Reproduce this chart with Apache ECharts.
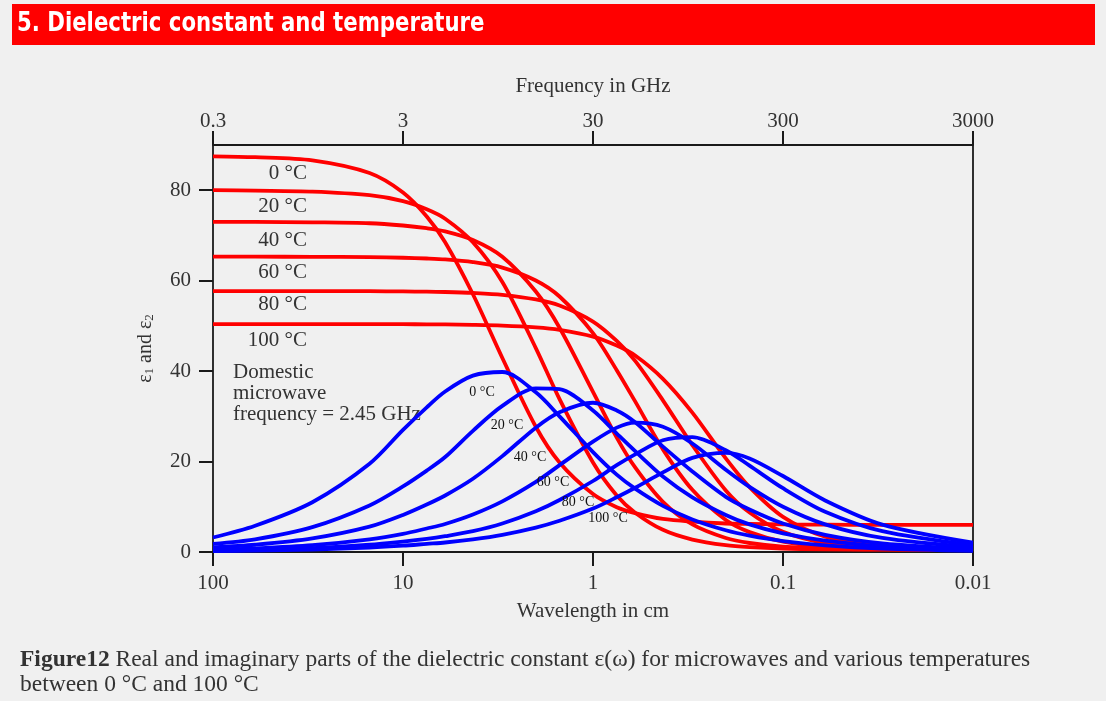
<!DOCTYPE html>
<html>
<head>
<meta charset="utf-8">
<script src="https://cdn.jsdelivr.net/npm/echarts@6/dist/echarts.min.js"></script>
<style>
html,body{margin:0;padding:0;background:#f0f0f0;}
#chart{width:1106px;height:701px;}
</style>
</head>
<body>
<div id="chart"></div>
<script>
// Frequency sample points (GHz), shared by all curves
const freqGHz = [0.3, 0.5, 1, 2, 3, 4, 5, 7, 10, 15, 20, 30, 40, 50, 70, 100, 150, 200, 300, 500, 1000, 3000];
const temps = ['0 °C', '20 °C', '40 °C', '60 °C', '80 °C', '100 °C'];

// Real part ε1 (red)
const eps1_0C   = [87.5, 87.3, 86.6, 83.8, 79.5, 74.2, 68.5, 57.0, 42.9, 27.7, 19.8, 12.8, 9.9, 8.6, 7.3, 6.7, 6.3, 6.2, 6.1, 6.05, 6.0, 6.0];
const eps1_20C  = [80.0, 79.9, 79.7, 78.9, 77.6, 75.8, 73.7, 68.5, 59.7, 45.1, 33.8, 19.8, 12.5, 8.7, 4.9, 2.75, 1.5, 1.07, 0.75, 0.59, 0.52, 0.5];
const eps1_40C  = [73.0, 73.0, 72.9, 72.7, 72.2, 71.6, 70.9, 69.0, 65.3, 57.6, 49.6, 35.4, 25.3, 18.7, 11.1, 6.1, 3.09, 1.99, 1.17, 0.74, 0.56, 0.51];
const eps1_60C  = [65.3, 65.3, 65.27, 65.2, 65.07, 64.9, 64.7, 64.1, 62.9, 60.05, 56.5, 48.4, 40.2, 33.3, 22.7, 13.75, 7.07, 4.4, 2.29, 1.16, 0.67, 0.52];
const eps1_80C  = [57.7, 57.7, 57.69, 57.67, 57.62, 57.56, 57.49, 57.28, 56.87, 55.84, 54.49, 50.96, 46.67, 42.26, 33.54, 23.64, 13.62, 8.74, 4.48, 2.01, 0.89, 0.54];
const eps1_100C = [50.4, 50.4, 50.4, 50.39, 50.37, 50.35, 50.32, 50.24, 50.08, 49.68, 49.13, 47.64, 45.65, 43.44, 38.29, 30.82, 20.69, 14.34, 7.77, 3.4, 1.26, 0.59];

// Imaginary part ε2 (blue)
const eps2_0C   = [3.2, 5.8, 11, 19.5, 27, 32, 35.5, 39, 39.8, 35.3, 30, 22.1, 17.1, 14, 10.2, 7.2, 4.8, 3.6, 2.4, 1.45, 0.73, 0.24];
const eps2_20C  = [1.8, 2.8, 5.5, 10.3, 14.5, 18, 21, 26.8, 32.3, 36.2, 36.0, 31.3, 26.2, 22.3, 16.7, 12.1, 8.2, 6.1, 4.1, 2.5, 1.25, 0.4];
const eps2_40C  = [1.0, 1.6, 3.0, 5.6, 8.2, 10.5, 12.5, 16.2, 21.2, 27.5, 30.9, 33.0, 31.3, 28.7, 23.3, 17.8, 12.2, 9.4, 6.3, 3.8, 1.9, 0.64];
const eps2_60C  = [0.5, 0.8, 1.5, 2.8, 4.0, 5.2, 6.2, 8.3, 11.2, 15.5, 19.2, 24.4, 27.5, 28.6, 27.7, 24.0, 18.2, 14.4, 10.0, 6.1, 3.1, 1.03];
const eps2_80C  = [0.3, 0.45, 0.85, 1.6, 2.3, 2.9, 3.5, 4.6, 6.3, 9.0, 11.5, 15.7, 19.2, 21.6, 24.7, 25.4, 22.5, 19.1, 14.1, 8.9, 4.6, 1.5];
const eps2_100C = [0.2, 0.3, 0.55, 1.0, 1.4, 1.8, 2.1, 2.8, 3.8, 5.4, 6.9, 9.6, 12.1, 14.2, 17.6, 20.8, 21.9, 20.7, 16.8, 11.4, 6.05, 2.05];

// Tick labels
const freqTicks = [0.3, 3, 30, 300, 3000];
const waveTicks = [100, 10, 1, 0.1, 0.01];
const yTicks = [0, 20, 40, 60, 80];

const realSets = [eps1_0C, eps1_20C, eps1_40C, eps1_60C, eps1_80C, eps1_100C];
const imagSets = [eps2_0C, eps2_20C, eps2_40C, eps2_60C, eps2_80C, eps2_100C];

const SERIF = '"Liberation Serif", "Times New Roman", "DejaVu Serif", serif';
const AX = '#1a1a1a';

function mk(arr, name, color) {
  return {
    type: 'line', name: name, xAxisIndex: 1, yAxisIndex: 0,
    data: freqGHz.map((f, i) => [f, arr[i]]),
    showSymbol: false, smooth: 0.3,
    lineStyle: { color: color, width: 3.8 },
    itemStyle: { color: color },
    silent: true
  };
}
const series = [];
realSets.forEach((a, i) => series.push(mk(a, 'ε1 ' + temps[i], '#ff0000')));
imagSets.forEach((a, i) => series.push(mk(a, 'ε2 ' + temps[i], '#0000ff')));

const fmt = v => {
  const n = Number(v);
  if (Math.abs(n - 0.01) < 1e-9) return '0.01';
  if (Math.abs(n - 0.1) < 1e-9) return '0.1';
  if (Math.abs(n - 0.3) < 1e-9) return '0.3';
  return String(Math.round(n));
};

const tickStyle = { show: true, length: 14, inside: false, lineStyle: { color: AX, width: 2 } };
const lineStyle = { show: true, onZero: false, lineStyle: { color: AX, width: 1.8 } };
const labelStyle = { fontFamily: SERIF, fontSize: 21, color: '#333' };

// annotation texts
const redLabelY = [173, 206, 240, 272, 304, 340];
const blueLabelPos = [[482, 392], [507, 425], [530, 457], [553, 482], [578, 502], [608, 518]];
const graphics = [
  { type: 'rect', shape: { x: 12, y: 4, width: 1083, height: 41 }, style: { fill: '#ff0000' } },
  { type: 'text', x: 17, y: 24, scaleX: 0.875, style: { text: '5. Dielectric constant and temperature', fill: '#ffffff',
      font: 'bold 27px "DejaVu Sans Condensed", "DejaVu Sans", sans-serif',
      textVerticalAlign: 'middle' } },
  { type: 'text', x: 233, y: 362, style: { text: 'Domestic\nmicrowave\nfrequency = 2.45 GHz', fill: '#333',
      font: '21px ' + SERIF, lineHeight: 21, textVerticalAlign: 'top' } },
  { type: 'text', x: 20, y: 660, style: { rich: { b: { fontWeight: 'bold', fontFamily: SERIF, fontSize: 23.5, fill: '#333' }, n: { fontFamily: SERIF, fontSize: 23.5, fill: '#333' } },
      text: '{b|Figure12}{n| Real and imaginary parts of the dielectric constant ε(ω) for microwaves and various temperatures}',
      textVerticalAlign: 'middle' } },
  { type: 'text', x: 20, y: 685, style: { text: 'between 0 °C and 100 °C', font: '23.5px ' + SERIF, fill: '#333', textVerticalAlign: 'middle' } }
];
temps.forEach((t, i) => {
  graphics.push({ type: 'text', x: 307, y: redLabelY[i], style: { text: t, font: '21px ' + SERIF, fill: '#333', textAlign: 'right', textVerticalAlign: 'middle' }, z: 10 });
  graphics.push({ type: 'text', x: blueLabelPos[i][0], y: blueLabelPos[i][1], style: { text: t, font: '14px ' + SERIF, fill: '#111', textAlign: 'center', textVerticalAlign: 'middle' }, z: 10 });
});

const chart = echarts.init(document.getElementById('chart'), null, { renderer: 'canvas' });
chart.setOption({
  backgroundColor: '#f0f0f0',
  animation: false,
  grid: { left: 213, right: 133, top: 145, bottom: 149, containLabel: false },
  xAxis: [
    { type: 'log', logBase: 10, position: 'bottom', min: 0.01, max: 100, inverse: true,
      name: 'Wavelength in cm', nameLocation: 'middle', nameGap: 49,
      nameTextStyle: { fontFamily: SERIF, fontSize: 21, color: '#333' },
      axisLine: lineStyle, axisTick: Object.assign({ customValues: waveTicks }, tickStyle),
      axisLabel: Object.assign({ customValues: waveTicks, margin: 21, formatter: fmt }, labelStyle),
      splitLine: { show: false }, minorTick: { show: false } },
    { type: 'log', logBase: 10, position: 'top', min: 0.3, max: 3000,
      name: 'Frequency in GHz', nameLocation: 'middle', nameGap: 48,
      nameTextStyle: { fontFamily: SERIF, fontSize: 21, color: '#333' },
      axisLine: lineStyle, axisTick: Object.assign({ customValues: freqTicks }, tickStyle),
      axisLabel: Object.assign({ customValues: freqTicks, margin: 13, formatter: fmt }, labelStyle),
      splitLine: { show: false }, minorTick: { show: false } }
  ],
  yAxis: [
    { type: 'value', position: 'left', min: 0, max: 90,
      name: 'ε{s|1} and ε{s|2}', nameLocation: 'middle', nameGap: 57, nameRotate: 90,
      nameTextStyle: { fontFamily: SERIF, fontSize: 20, color: '#333', rich: { s: { fontFamily: SERIF, fontSize: 13, color: '#333', verticalAlign: 'bottom', padding: [8, 0, 0, 0] } } },
      axisLine: lineStyle, axisTick: Object.assign({ customValues: yTicks }, tickStyle),
      axisLabel: Object.assign({ customValues: yTicks, margin: 22 }, labelStyle),
      splitLine: { show: false } },
    { type: 'value', position: 'right', min: 0, max: 90,
      axisLine: lineStyle, axisTick: { show: false }, axisLabel: { show: false }, splitLine: { show: false } }
  ],
  series: series,
  graphic: graphics
});
</script>
</body>
</html>
